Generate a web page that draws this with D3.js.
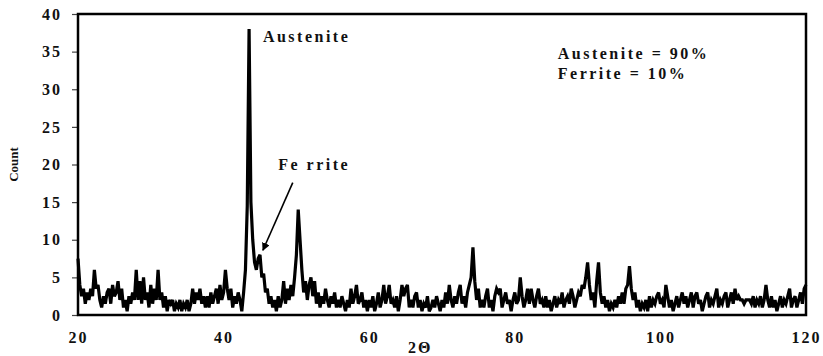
<!DOCTYPE html>
<html>
<head>
<meta charset="utf-8">
<script src="https://cdn.jsdelivr.net/npm/d3@7"></script>
<style>
  html, body { margin: 0; padding: 0; background: #fff; }
  svg text { font-family: "Liberation Serif", "Times New Roman", "DejaVu Serif", serif; font-weight: bold; fill: #111; }
</style>
</head>
<body>
<div id="chart"></div>
<script>
// 2-theta step of the scan
const step = 0.25;
const startAngle = 20;

// counts, one array per 10 degrees (20 .. 119.75), plus the last point at 120
const counts20 = [7.5,4,2.5,3.5,1.5,3,2,3.5,2.5,6,3.5,4,2,1,2.5,1.5,3,3.5,1.5,4,2.5,3,4.5,2,3.5,1,2,0.5,2.5,1.5,3,2,6,2,4.5,1.5,5,2,3,1];
const counts30 = [4,1.5,3.5,2,6,2,3,1,2.5,0.5,2,1.5,2,0.5,1.5,1,2,0.5,1.5,1,2,0.5,1.5,3.5,1.5,3,2,3.5,1.5,2.5,1,2.5,1,3,1.5,2.5,3.5,1.5,4,2];
const counts40 = [3,6,3.5,2,3.5,1,2.5,1.5,3,2,0.5,3,6,14.5,38,15,10,7,6,7.5,8,5,5.5,3,3.5,1.5,2.5,1,2,0.5,2.5,1,2,4.5,1.5,3.5,2,4,2.5,5];
const counts50 = [8,14,10,6,3,4.5,2,4,5,2.5,4.5,1.5,3,1,2.5,1.5,3.5,2,1,2.5,1.5,3,1,2,1,2.5,1.5,0.5,2,1,3.5,1.5,2.5,4,1.5,2,3,1,2,0.5];
const counts60 = [2,1,2.5,0.5,1.5,3,1,2,4,1.5,2.5,4,1.5,2,1,2.5,0.5,2,4,2.5,3.5,4,1,2,1,2.5,3,1,2,0.5,1.5,1,2.5,0.5,1,2,1,2.5,1.5,0.5];
const counts70 = [2,1,3,1.5,4,2,1,2.5,1.5,3,4,1.5,2.5,1,3,4,5,9,4.5,2,3.5,1,2,1,2.5,3.5,1,2,0.5,2.5,3.5,3,3.5,1,2,3,1.5,2,0.5,2];
const counts80 = [3,1.5,2,5,2.5,1,2,3.5,1.5,3.5,2,1,2.5,3.5,1.5,2,1,2.5,1,2,0.5,1.5,2.5,1,2,1.5,3,1,2,2.5,1.5,3.5,2.5,1,2,3,2.5,4,3.5,5];
const counts90 = [7,4,2,3,1,4.5,7,3,1.5,2.5,1,2,0.5,1.5,1,2,1,2.5,1.5,3,1.5,3.5,4,6.5,3.5,2,3,1,2,0.5,1.5,1,2,0.5,2.5,1,2,1.5,2.5,3];
const counts100 = [1.5,2,1,4,2.5,1,2,0.5,1.5,2.5,1,2,3,1.5,2.5,1,2,3,1,2.5,3,1.5,2,0.5,1.5,2.5,3,1,2,1.5,2.5,3.5,1,2,1.5,2.5,3,1,2,3];
const counts110 = [1.5,3.5,2,2.5,2,2,1.5,2,2,2,1.5,2.5,1,2,1.5,2.5,1,2,4,2,1,2.5,1,2,0.5,1.5,2.5,1,2,1.5,2.5,3.5,1,2,2.5,1,2,3,1.5,3.5];
const countsEnd = [4];

const xTicks = [20, 40, 60, 80, 100, 120];
const yTicks = [0, 5, 10, 15, 20, 25, 30, 35, 40];

// annotations (in data units)
const peakLabels = [
  { text: "Austenite", x: 45.4, y: 36.3 },
  { text: "Fe rrite", x: 47.5, y: 19.3 }
];
const arrow = { from: [49.5, 17.6], to: [45.4, 8.6] };
const phaseText = ["Austenite = 90%", "Ferrite = 10%"];
const phasePos = { x: 85.9, y: 34.0, dy: 2.66 };

const allCounts = [].concat(counts20, counts30, counts40, counts50, counts60,
  counts70, counts80, counts90, counts100, counts110, countsEnd);
const data = allCounts.map((c, i) => ({ angle: startAngle + i * step, count: c }));

const width = 823;
const height = 356;
const margin = { top: 14, right: 17, bottom: 41, left: 78 };
const innerW = width - margin.left - margin.right;
const innerH = height - margin.top - margin.bottom;

const svg = d3.select("#chart")
  .append("svg")
  .attr("width", width)
  .attr("height", height);

const g = svg.append("g")
  .attr("transform", `translate(${margin.left},${margin.top})`);

const x = d3.scaleLinear().domain([20, 120]).range([0, innerW]);
const y = d3.scaleLinear().domain([0, 40]).range([innerH, 0]);

function styleTicks(sel) {
  sel.attr("font-family", null).attr("font-size", null);
  sel.selectAll("text")
    .style("font-size", "16px")
    .style("letter-spacing", "2px")
    .attr("fill", "#111");
}

// y axis
const yAxis = g.append("g")
  .call(d3.axisLeft(y).tickValues(yTicks).tickSize(6).tickPadding(10));
yAxis.select(".domain").remove();
yAxis.selectAll("line").attr("stroke", "#444").attr("stroke-width", 1.2);
styleTicks(yAxis);

// x axis
const xAxis = g.append("g")
  .attr("transform", `translate(0,${innerH})`)
  .call(d3.axisBottom(x).tickValues(xTicks).tickSize(0).tickPadding(17));
xAxis.select(".domain").remove();
styleTicks(xAxis);

// pattern line
const line = d3.line()
  .x(d => x(d.angle))
  .y(d => y(d.count));

g.append("path")
  .datum(data)
  .attr("fill", "none")
  .attr("stroke", "#000")
  .attr("stroke-width", 3.2)
  .attr("stroke-linejoin", "miter")
  .attr("stroke-miterlimit", 3)
  .attr("d", line);

// frame
g.append("rect")
  .attr("x", 0)
  .attr("y", 0)
  .attr("width", innerW)
  .attr("height", innerH)
  .attr("fill", "none")
  .attr("stroke", "#000")
  .attr("stroke-width", 2.5);

// axis titles
svg.append("text")
  .attr("x", margin.left + x(67))
  .attr("y", 353)
  .attr("text-anchor", "middle")
  .style("font-size", "16px")
  .style("letter-spacing", "2px")
  .text("2\u0398");

svg.append("text")
  .attr("transform", `translate(18,${margin.top + y(20)}) rotate(-90)`)
  .attr("text-anchor", "middle")
  .style("font-size", "13px")
  .text("Count");

// peak labels
g.selectAll(".peak-label")
  .data(peakLabels)
  .enter()
  .append("text")
  .attr("class", "peak-label")
  .attr("x", d => x(d.x))
  .attr("y", d => y(d.y))
  .style("font-size", "16px")
  .style("letter-spacing", "2.5px")
  .text(d => d.text);

// arrow to the ferrite peak
svg.append("defs").append("marker")
  .attr("id", "head")
  .attr("viewBox", "0 0 10 10")
  .attr("refX", 9)
  .attr("refY", 5)
  .attr("markerWidth", 5)
  .attr("markerHeight", 5)
  .attr("orient", "auto")
  .append("path")
  .attr("d", "M0,0L10,5L0,10z")
  .attr("fill", "#000");

g.append("line")
  .attr("x1", x(arrow.from[0]))
  .attr("y1", y(arrow.from[1]))
  .attr("x2", x(arrow.to[0]))
  .attr("y2", y(arrow.to[1]))
  .attr("stroke", "#000")
  .attr("stroke-width", 1.6)
  .attr("marker-end", "url(#head)");

// phase fractions
g.selectAll(".phase")
  .data(phaseText)
  .enter()
  .append("text")
  .attr("class", "phase")
  .attr("x", x(phasePos.x))
  .attr("y", (d, i) => y(phasePos.y - i * phasePos.dy))
  .style("font-size", "16px")
  .style("letter-spacing", "2.5px")
  .text(d => d);
</script>
</body>
</html>
